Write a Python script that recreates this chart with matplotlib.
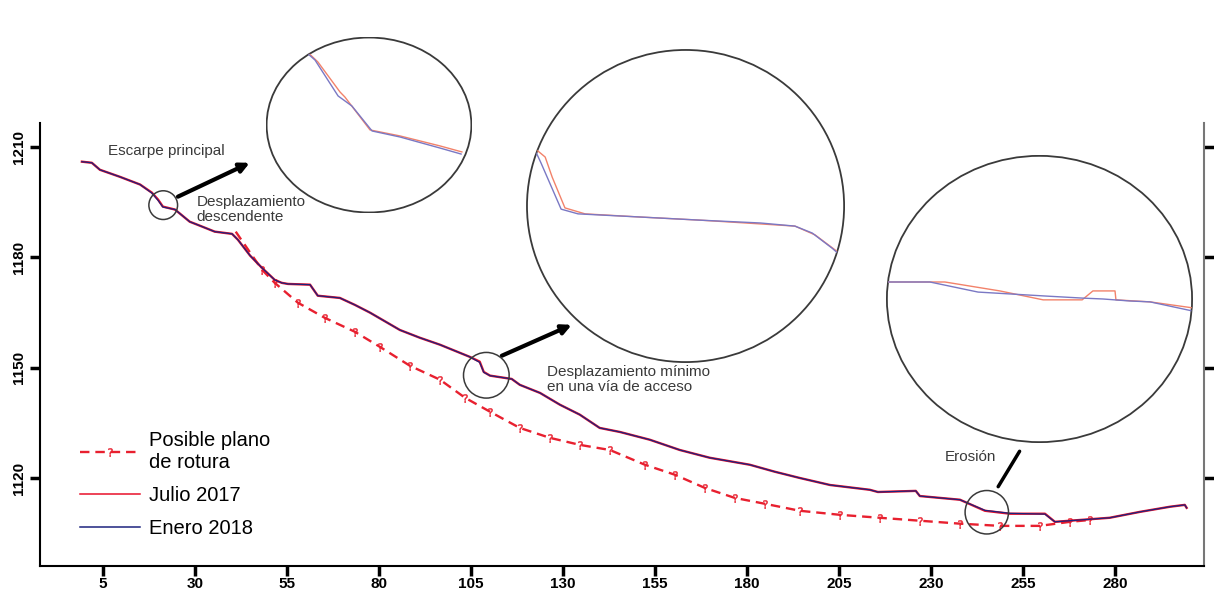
import matplotlib
matplotlib.use("Agg")
import matplotlib.pyplot as plt
from matplotlib.patches import Ellipse, Circle

plt.rcParams['font.family'] = ['Liberation Sans', 'DejaVu Sans']

# perfil del terreno (distancia horizontal, cota)
dist = [-0.7, 2.0, 4.2, 9.6, 15.1, 18.3, 20.0, 21.3, 24.6, 28.6, 31.4, 35.4, 40.1,
        41.7, 45.0, 48.2, 51.7, 53.6, 55.3, 61.3, 63.4, 69.4, 73.5, 77.6, 85.7,
        91.1, 96.6, 104.7, 107.4, 108.5, 110.2, 116.1, 118.3, 123.8, 129.2, 134.6,
        140.0, 145.5, 153.6, 161.8, 169.9, 180.8, 187.6, 194.4, 202.6, 213.4,
        215.6, 225.9, 227.0, 237.9, 244.7, 251.5, 261.0, 263.7, 267.8, 278.6,
        286.8, 295.0, 299.0, 299.5]
julio_2017 = [1206.0, 1205.7, 1203.8, 1201.9, 1199.8, 1197.6, 1195.7, 1193.8, 1193.0,
              1189.7, 1188.6, 1187.0, 1186.4, 1184.8, 1180.5, 1177.2, 1173.9, 1173.1,
              1172.8, 1172.6, 1169.6, 1169.0, 1167.1, 1165.0, 1160.3, 1158.2, 1156.3,
              1153.0, 1151.7, 1148.9, 1147.9, 1147.0, 1145.4, 1143.2, 1140.0, 1137.3,
              1133.7, 1132.6, 1130.5, 1127.7, 1125.6, 1123.7, 1121.8, 1120.1, 1118.2,
              1116.9, 1116.3, 1116.6, 1115.2, 1114.2, 1111.2, 1110.4, 1110.4, 1108.2,
              1108.5, 1109.3, 1110.9, 1112.3, 1112.8, 1112.0]
enero_2018 = [1206.0, 1205.7, 1203.8, 1201.9, 1199.8, 1197.5, 1195.5, 1193.7, 1193.0,
              1189.7, 1188.6, 1187.0, 1186.4, 1184.8, 1180.5, 1177.2, 1173.9, 1173.1,
              1172.8, 1172.6, 1169.6, 1169.0, 1167.1, 1165.0, 1160.3, 1158.2, 1156.3,
              1153.0, 1151.5, 1148.8, 1147.9, 1147.0, 1145.4, 1143.2, 1140.0, 1137.3,
              1133.7, 1132.6, 1130.5, 1127.7, 1125.6, 1123.7, 1121.8, 1120.1, 1118.2,
              1116.9, 1116.3, 1116.6, 1115.2, 1114.2, 1111.3, 1110.5, 1110.3, 1108.2,
              1108.5, 1109.3, 1110.9, 1112.3, 1112.8, 1112.0]

# posible plano de rotura
rot_dist = [41.1, 48.2, 51.7, 58.0, 65.3, 73.5, 80.3, 88.4, 96.6, 103.4, 110.2, 118.3,
            126.5, 134.6, 142.8, 152.3, 160.4, 168.6, 176.7, 184.9, 194.4, 205.3,
            216.1, 227.0, 237.9, 248.8, 259.6, 267.8, 273.2]
rot_cota = [1187.0, 1176.7, 1173.1, 1167.7, 1163.6, 1159.8, 1155.7, 1150.6, 1146.8,
            1141.9, 1138.1, 1133.7, 1131.0, 1129.1, 1127.7, 1123.7, 1121.0, 1117.4,
            1114.7, 1113.1, 1111.2, 1110.1, 1109.3, 1108.5, 1107.7, 1107.1, 1107.1,
            1108.2, 1108.7]

x_ticks = [5, 30, 55, 80, 105, 130, 155, 180, 205, 230, 255, 280]
y_ticks = [1120, 1150, 1180, 1210]

# zonas de detalle (centro x, centro y, radio) en unidades del perfil
det_x = [21.4, 109.2, 245.2]
det_y = [1194.2, 1148.0, 1110.8]
det_r = [3.9, 6.2, 5.9]

# ampliaciones (coordenadas locales 0-1 dentro de cada circulo)
amp1_rojo_u = [0.150, 0.252, 0.359, 0.383, 0.505, 0.650, 0.845, 0.951]
amp1_rojo_v = [0.972, 0.858, 0.688, 0.659, 0.472, 0.438, 0.381, 0.347]
amp1_azul_u = [0.150, 0.238, 0.350, 0.417, 0.515, 0.650, 0.845, 0.947]
amp1_azul_v = [0.960, 0.869, 0.665, 0.608, 0.466, 0.432, 0.369, 0.335]

amp2_rojo_u = [0.034, 0.060, 0.082, 0.122, 0.185, 0.357, 0.545, 0.734, 0.843, 0.906, 0.969, 0.991]
amp2_rojo_v = [0.678, 0.656, 0.592, 0.494, 0.475, 0.465, 0.455, 0.443, 0.436, 0.408, 0.360, 0.341]
amp2_azul_u = [0.031, 0.047, 0.110, 0.163, 0.357, 0.545, 0.734, 0.843, 0.897, 0.959, 0.991]
amp2_azul_v = [0.672, 0.637, 0.490, 0.475, 0.465, 0.455, 0.446, 0.436, 0.414, 0.366, 0.338]

amp3_rojo_u = [0.000, 0.192, 0.290, 0.371, 0.512, 0.639, 0.674, 0.746, 0.749, 0.860, 1.000]
amp3_rojo_v = [0.559, 0.559, 0.542, 0.528, 0.497, 0.497, 0.528, 0.528, 0.497, 0.490, 0.469]
amp3_azul_u = [0.000, 0.143, 0.300, 0.524, 0.642, 0.707, 0.795, 0.860, 1.000]
amp3_azul_v = [0.559, 0.559, 0.524, 0.510, 0.503, 0.500, 0.493, 0.490, 0.458]

rojo = '#e8102a'
azul = '#1c237e'
gris = '#3a3a3a'

fig = plt.figure(figsize=(12.14, 5.92), dpi=100)
ax = fig.add_axes([0.0329, 0.0439, 0.9588, 0.7483])

ax.plot(rot_dist, rot_cota, color='#e8202f', lw=1.7, ls=(0, (4, 2.5)),
        marker='$?$', markersize=6, markeredgewidth=0.3, markevery=slice(1, None),
        zorder=3, label='Posible plano\nde rotura')
ax.plot(dist, julio_2017, color=rojo, lw=1.7, zorder=4, label='Julio 2017')
ax.plot(dist, enero_2018, color=azul, lw=0.9, zorder=5, label='Enero 2018')

# circulos de detalle
for cx, cy, r in zip(det_x, det_y, det_r):
    ax.add_patch(Circle((cx, cy), r, fill=False, ec=gris, lw=1.1, zorder=6))

ax.set_xlim(-12.1, 304.2)
ax.set_ylim(1096.2, 1216.5)
ax.set_xticks(x_ticks)
ax.set_xticklabels([str(v) for v in x_ticks], fontweight='bold', fontsize=11)
ax.set_yticks(y_ticks)
ax.set_yticklabels([str(v) for v in y_ticks], fontweight='bold', fontsize=11,
                   rotation=90, va='center')
ax.tick_params(direction='out', length=7, width=2.5, pad=1, right=True, labelright=False)
ax.tick_params(axis='y', pad=3)
ax.spines['top'].set_visible(False)
ax.spines['left'].set_linewidth(1.5)
ax.spines['bottom'].set_linewidth(1.5)
ax.spines['right'].set_color('#777777')
ax.spines['right'].set_linewidth(1.5)

# anotaciones
ax.text(6.4, 1209, 'Escarpe principal', fontsize=11, color=gris, va='center')
ax.text(30.5, 1193.0, 'Desplazamiento\ndescendente', fontsize=11, color=gris,
        va='center', linespacing=1.05)
ax.text(125.7, 1146.8, 'Desplazamiento mínimo\nen una vía de acceso', fontsize=11,
        color=gris, va='center', linespacing=1.1)
ax.text(233.8, 1125.8, 'Erosión', fontsize=11, color=gris, va='center')

flecha = dict(arrowstyle='-|>', color='black', lw=3, mutation_scale=14,
              shrinkA=0, shrinkB=0)
ax.annotate('', xy=(44.9, 1205.7), xytext=(25.4, 1196.5), arrowprops=flecha)
ax.annotate('', xy=(132.4, 1161.7), xytext=(113.4, 1153.3), arrowprops=flecha)
ax.annotate('', xy=(254.5, 1128.0), xytext=(247.9, 1117.1),
            arrowprops=dict(arrowstyle='-', color='black', lw=2.5))

leg = ax.legend(loc='upper left', bbox_to_anchor=(0.034, 0.305), frameon=False,
                fontsize=14.5, handlelength=3.0, handletextpad=0.45,
                labelspacing=0.7, borderpad=0, borderaxespad=0)
leg.get_lines()[1].set_linewidth(1.1)
leg.get_lines()[2].set_linewidth(1.1)

# ampliaciones circulares
ampliaciones = [
    ([0.2191, 0.6402, 0.1697, 0.2973], amp1_rojo_u, amp1_rojo_v, amp1_azul_u, amp1_azul_v),
    ([0.4333, 0.3868, 0.2628, 0.5304], amp2_rojo_u, amp2_rojo_v, amp2_azul_u, amp2_azul_v),
    ([0.7298, 0.2517, 0.2529, 0.4865], amp3_rojo_u, amp3_rojo_v, amp3_azul_u, amp3_azul_v),
]
for rect, ru, rv, bu, bv in ampliaciones:
    iax = fig.add_axes(rect)
    iax.set_xlim(0, 1)
    iax.set_ylim(0, 1)
    iax.axis('off')
    borde = Ellipse((0.5, 0.5), 0.994, 0.994, transform=iax.transAxes,
                    fc='white', ec=gris, lw=1.3, zorder=1)
    iax.add_patch(borde)
    l1, = iax.plot(ru, rv, color='#f2826a', lw=1.0, zorder=2)
    l2, = iax.plot(bu, bv, color='#7a78c4', lw=1.0, zorder=3)
    l1.set_clip_path(borde)
    l2.set_clip_path(borde)

fig.savefig('out.png', dpi=100)
